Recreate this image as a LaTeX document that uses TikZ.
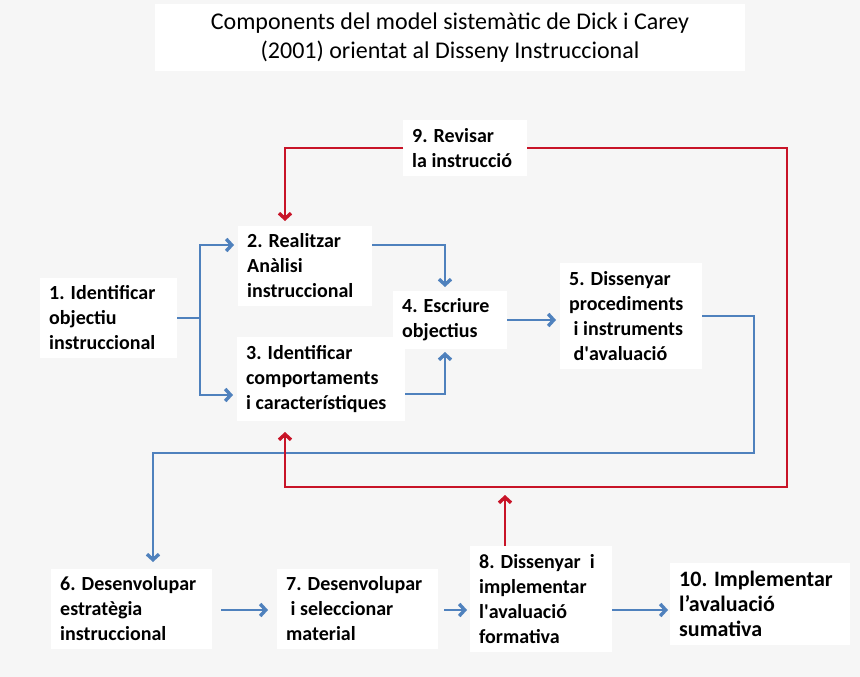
\documentclass[tikz,border=0pt]{standalone}
\usepackage{fontspec}
\setmainfont{Carlito}
\usepackage[RGB]{xcolor}
\usetikzlibrary{arrows.meta}
\definecolor{bg}{RGB}{246,246,246}
\definecolor{B}{RGB}{79,129,189}
\definecolor{R}{RGB}{200,20,40}
\newcommand{\drawblue}{\draw[B,line width=2.8pt,-{Straight Barb[length=5.5pt,width=12pt,line width=3.4pt]},shorten >=4pt]}
\newcommand{\drawred}{\draw[R,line width=2.8pt,-{Straight Barb[length=5.5pt,width=12pt,line width=3.4pt]}]}
\tikzset{stage/.style={fill=white,inner xsep=9pt,inner ysep=8pt,anchor=west,align=flush left,text width=#1,
    font=\bfseries\fontsize{20}{25}\selectfont}}

\begin{document}
\begin{tikzpicture}[x=1pt,y=-1pt]
\fill[bg] (0,0) rectangle (860,677);
\useasboundingbox (0,0) rectangle (860,677);
\node[fill=white,minimum width=590pt,minimum height=67pt,align=center,font=\fontsize{24}{29}\selectfont] (title) at (450,38)
  {Components del model sistemàtic de Dick i Carey\\(2001) orientat al Disseny Instruccional};
% stages
\node[stage=119pt] (n1) at (40,318) {1. Identificar\\objectiu\\instruccional};
\node[stage=116pt] (n2) at (238,266) {2. Realitzar\\Anàlisi\\instruccional};
\node[stage=150pt] (n3) at (237,379) {3. Identificar\\comportaments\\i característiques};
\node[stage=96pt] (n4) at (393,320) {4. Escriure\\objectius};
\node[stage=124pt] (n5) at (560,316) {5. Dissenyar\\procediments\\\ i instruments\\\ d\textquotesingle avaluació};
\node[stage=106pt] (n9) at (403,148) {9. Revisar\\la instrucció};
\node[stage=143pt] (n6) at (51,609) {6. Desenvolupar\\estratègia\\instruccional};
\node[stage=143pt] (n7) at (277,609) {7. Desenvolupar\\\ i seleccionar\\material};
\node[stage=124pt] (n8) at (470,599) {8. Dissenyar \ i\\implementar\\l\textquotesingle avaluació\\formativa};
\node[stage=162pt,font=\bfseries\fontsize{22}{25}\selectfont] (n10) at (670,604) {10. Implementar\\l’avaluació\\sumativa};
% bends
\coordinate (split) at (200,318);
\coordinate (up4) at (445,287);
\coordinate (down4) at (445,352);
\coordinate (blueR) at (754,453);
\coordinate (in6) at (153,562);
\coordinate (revL) at (285,221);
\coordinate (redR) at (787,487);
\coordinate (in3) at (285,432);
\coordinate (up8) at (505,495);
\coordinate (row) at (0,610);
% blue flow
\draw[B,line width=2.8pt] (n1.east) -- (split);
\drawblue (split) |- ([yshift=21pt]n2.west);
\drawblue (split) |- ([yshift=-16pt]n3.west);
\drawblue[shorten >=0pt] ([yshift=21pt]n2.east) -| (up4);
\drawblue[shorten >=0pt] ([yshift=-15pt]n3.east) -| (down4);
\drawblue (n4.east) -- (n4.east -| n5.west);
\drawblue[shorten >=0pt] (n5.east) -| (blueR) -| (in6);
\drawblue[shorten <=9pt,shorten >=9pt] (n6.east |- row) -- (n7.west |- row);
\drawblue[shorten <=6pt,shorten >=3pt] (n7.east |- row) -- (n8.west |- row);
\drawblue[shorten >=2pt] (n8.east |- row) -- (n10.west |- row);
% red revision loop
\drawred (n9.west) -| (revL);
\drawred (n9.east) -| (redR) -| (in3);
\drawred (up8 |- n8.north) -- (up8);
\end{tikzpicture}
\end{document}
